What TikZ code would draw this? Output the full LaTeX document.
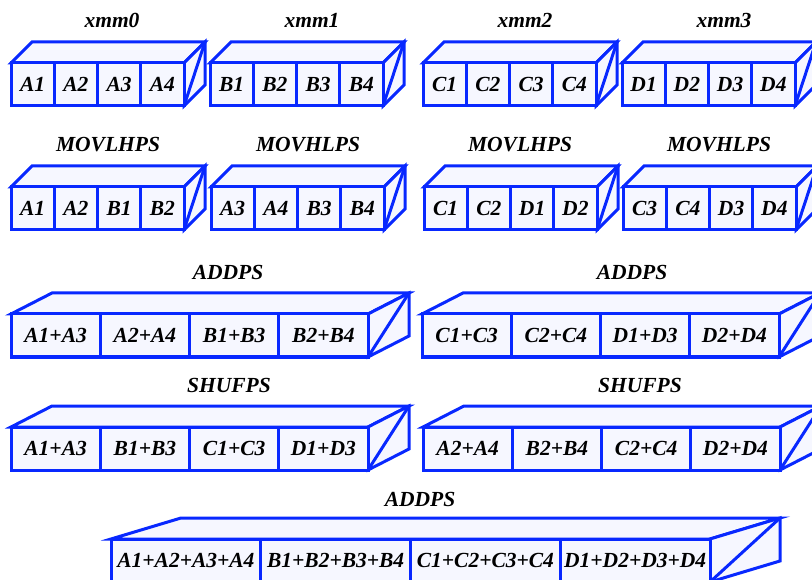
\documentclass[tikz,border=0pt]{standalone}
\usepackage{fontspec}
\setmainfont{Liberation Serif}
\usetikzlibrary{calc}
\usetikzlibrary{positioning}
\definecolor{regBlue}{RGB}{8,40,255}
\definecolor{regFill}{RGB}{246,247,255}
\newcommand{\lineColor}{regBlue}
\newcommand{\boxColor}{regFill}
\newcommand{\regHeight}{43}
\newcommand{\regRise}{21}
\newcommand{\drawRegister}[6]{
	\coordinate (#1-tl) at (#2,#3);
	\coordinate (#1-tr) at ($(#1-tl)+(#4,0)$);
	\coordinate (#1-br) at ($(#1-tr)+(0,\regHeight)$);
	\coordinate (#1-btl) at ($(#1-tl)+(#5,-\regRise)$);
	\coordinate (#1-btr) at ($(#1-tr)+(#5,-\regRise)$);
	\coordinate (#1-bbr) at ($(#1-br)+(#5,-\regRise)$);
	\filldraw[face] (#1-tl) -- (#1-btl) -- (#1-btr) -- (#1-tr) -- cycle;
	\filldraw[face] (#1-tr) -- (#1-btr) -- (#1-bbr) -- (#1-br) -- cycle;
	\draw[edge] (#1-br) -- (#1-btr);
	\filldraw[face] (#1-tl) rectangle (#1-br);
	\foreach \lbl [count=\i] in {#6}
	{
		\node[cellText] (#1-c\i) at ($(#1-tl)+({(\i-0.5)*#4/4},{\regHeight/2})$) {\lbl};
		\ifnum\i<4
			\draw[edge] ($(#1-tl)+({\i*#4/4},0)$) -- ++(0,\regHeight);
		\fi
	}
}
\tikzset{edge/.style = {\lineColor, line width=3pt}}
\tikzset{face/.style = {fill=\boxColor, draw=\lineColor, line width=3pt}}
\tikzset{cellText/.style = {font=\fontsize{21.5}{24}\selectfont\bfseries\itshape, inner sep=0pt}}
\tikzset{opLabel/.style = {cellText, anchor=base}}

\begin{document}
\begin{tikzpicture}[x=1pt, y=-1pt]
	\useasboundingbox (0,0) rectangle (812,580);

	% source registers
	\drawRegister{xmm0}{11}{63}{173}{21}{A1,A2,A3,A4}
	\drawRegister{xmm1}{210}{63}{173}{21}{B1,B2,B3,B4}
	\drawRegister{xmm2}{423}{63}{173}{21}{C1,C2,C3,C4}
	\drawRegister{xmm3}{622}{63}{173}{21}{D1,D2,D3,D4}

	\drawRegister{movA}{11}{187}{173}{21}{A1,A2,B1,B2}
	\drawRegister{movB}{211}{187}{173}{21}{A3,A4,B3,B4}
	\drawRegister{movC}{424}{187}{173}{21}{C1,C2,D1,D2}
	\drawRegister{movD}{623}{187}{173}{21}{C3,C4,D3,D4}

	\drawRegister{addA}{11}{314}{357}{41}{A1+A3,A2+A4,B1+B3,B2+B4}
	\drawRegister{addB}{422}{314}{357}{41}{C1+C3,C2+C4,D1+D3,D2+D4}

	\drawRegister{shufA}{11}{427}{357}{41}{A1+A3,B1+B3,C1+C3,D1+D3}
	\drawRegister{shufB}{423}{427}{357}{41}{A2+A4,B2+B4,C2+C4,D2+D4}

	% final sum
	\drawRegister{sum}{111}{539}{599}{70}{A1+A2+A3+A4,B1+B2+B3+B4,C1+C2+C3+C4,D1+D2+D3+D4}

	\foreach \lbl/\x/\y [count=\k] in {xmm0/112/28, xmm1/312/28, xmm2/525/28,
			xmm3/724/28, MOVLHPS/108/152, MOVHLPS/308/152, MOVLHPS/520/152,
			MOVHLPS/719/152, ADDPS/228/280, ADDPS/632/280, SHUFPS/229/392,
			SHUFPS/640/392, ADDPS/420/506}
	{
		\node[opLabel] (op\k) at (\x,\y) {\lbl};
	}
\end{tikzpicture}
\end{document}
